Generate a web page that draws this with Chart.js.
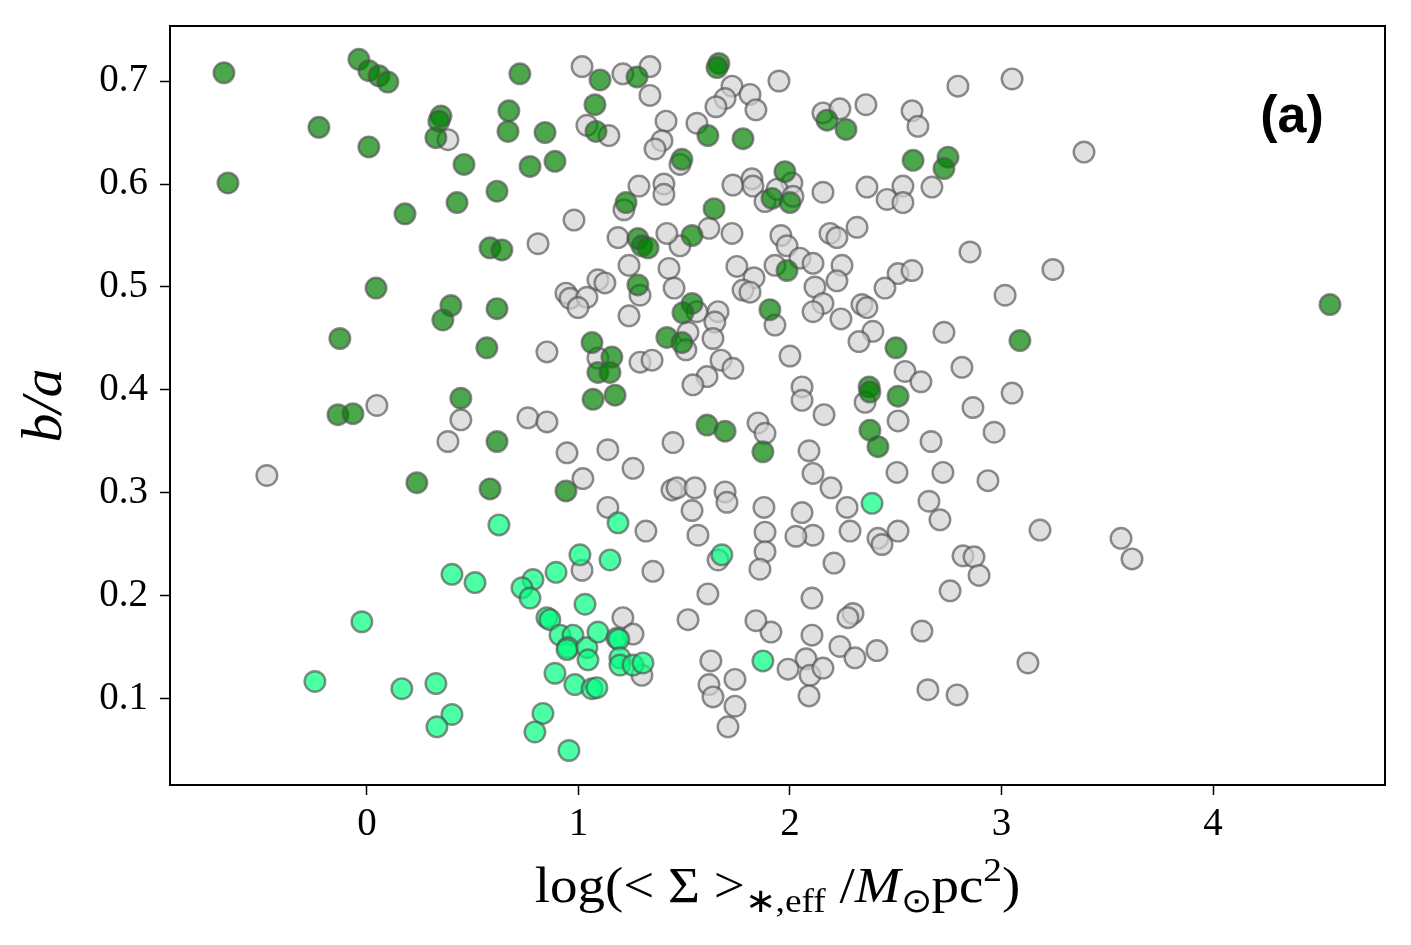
<!DOCTYPE html>
<html>
<head>
<meta charset="utf-8">
<script src="https://cdn.jsdelivr.net/npm/chart.js@4"></script>
<style>
  html, body { margin: 0; padding: 0; background: #fff; }
  canvas { display: block; }
</style>
</head>
<body>
<canvas id="chart" width="1411" height="945"></canvas>
<script>
const xTicks = [0, 1, 2, 3, 4];
const yTicks = [0.1, 0.2, 0.3, 0.4, 0.5, 0.6, 0.7];

// whole sample (grey)
const grayX = [
  0.383, 1.017, 1.210, 1.338, 1.338, 1.726, 1.693, 1.650, 1.811, 1.839,
  1.948, 1.040, 1.144, 1.414, 1.395, 1.362, 1.560, 1.480, 0.979, 0.809,
  1.286, 1.404, 1.404, 1.215, 1.730, 1.820, 1.825, 1.882, 1.617, 1.726,
  1.480, 1.418, 1.187, 1.239, 1.428, 1.749, 1.830, 1.092, 1.125, 1.957,
  1.929, 2.156, 2.236, 2.359, 2.577, 2.605, 2.794, 3.050, 2.009, 1.939,
  2.014, 2.156, 2.364, 2.459, 2.534, 2.534, 2.671, 1.986, 2.189, 2.222,
  2.317, 2.047, 2.109, 2.246, 2.222, 2.118, 2.511, 2.577, 2.449, 2.851,
  3.243, 3.390, 0.851, 0.761, 0.851, 0.946, 1.139, 1.258, 1.021, 1.139,
  0.941, 0.960, 1.040, 0.998, 1.291, 1.239, 1.452, 1.560, 1.660, 1.645,
  1.518, 1.508, 1.636, 1.291, 1.348, 1.674, 1.730, 1.608, 1.541, 1.447,
  1.849, 1.882, 1.929, 1.778, 1.811, 1.442, 1.466, 1.551, 1.693, 1.702,
  1.537, 1.877, 1.319, 1.565, 1.882, 2.156, 2.109, 2.241, 2.340, 2.364,
  2.392, 2.326, 2.000, 2.544, 2.619, 2.728, 2.813, 3.017, 3.050, 2.865,
  2.965, 2.057, 2.057, 2.161, 2.355, 2.511, 2.667, 2.090, 2.109, 2.194,
  2.270, 2.506, 2.723, 2.936, 2.657, 2.709, 2.057, 3.182, 2.284, 2.416,
  2.435, 2.511, 2.109, 2.028, 1.882, 1.858, 2.208, 2.818, 2.870, 2.894,
  2.757, 2.104, 2.298, 2.274, 1.910, 2.104, 2.236, 2.307, 2.411, 2.076,
  1.991, 2.095, 2.156, 2.090, 2.624, 2.652, 2.790, 3.125, 1.660, 1.017,
  1.352, 1.612, 1.518, 1.210, 1.258, 1.300, 1.626, 1.617, 1.636, 1.740,
  1.740, 1.707, 1.839, 3.565, 3.617, 0.047, 0.444, 0.383, -0.473, 1.092
];
const grayY = [
  0.643, 0.714, 0.707, 0.714, 0.686, 0.695, 0.683, 0.675, 0.687, 0.672,
  0.700, 0.657, 0.647, 0.661, 0.642, 0.634, 0.659, 0.619, 0.565, 0.542,
  0.598, 0.600, 0.590, 0.575, 0.599, 0.605, 0.598, 0.583, 0.557, 0.552,
  0.540, 0.552, 0.548, 0.521, 0.518, 0.520, 0.509, 0.507, 0.504, 0.550,
  0.521, 0.669, 0.673, 0.677, 0.671, 0.656, 0.695, 0.702, 0.601, 0.595,
  0.588, 0.592, 0.597, 0.585, 0.598, 0.582, 0.597, 0.540, 0.552, 0.548,
  0.558, 0.528, 0.523, 0.521, 0.506, 0.500, 0.513, 0.516, 0.499, 0.534,
  0.517, 0.631, 0.437, 0.373, 0.369, 0.339, 0.342, 0.324, 0.314, 0.286,
  0.494, 0.489, 0.490, 0.480, 0.492, 0.472, 0.499, 0.476, 0.476, 0.466,
  0.456, 0.439, 0.450, 0.427, 0.429, 0.429, 0.421, 0.413, 0.405, 0.349,
  0.368, 0.358, 0.463, 0.497, 0.495, 0.303, 0.305, 0.305, 0.301, 0.291,
  0.283, 0.286, 0.263, 0.259, 0.262, 0.484, 0.476, 0.469, 0.483, 0.480,
  0.457, 0.447, 0.433, 0.418, 0.408, 0.456, 0.422, 0.492, 0.397, 0.383,
  0.359, 0.403, 0.390, 0.376, 0.388, 0.370, 0.350, 0.341, 0.319, 0.305,
  0.286, 0.320, 0.320, 0.312, 0.292, 0.274, 0.281, 0.264, 0.263, 0.256,
  0.250, 0.263, 0.259, 0.258, 0.243, 0.226, 0.232, 0.239, 0.238, 0.220,
  0.205, 0.198, 0.183, 0.179, 0.165, 0.162, 0.151, 0.140, 0.147, 0.139,
  0.129, 0.123, 0.130, 0.103, 0.166, 0.109, 0.104, 0.135, 0.235, 0.225,
  0.224, 0.202, 0.177, 0.179, 0.163, 0.123, 0.137, 0.114, 0.102, 0.119,
  0.093, 0.073, 0.176, 0.256, 0.236, 0.385, 0.371, 0.350, 0.317, 0.431
];

// dark green subsample
const darkX = [
  -0.676, -0.657, -0.227, -0.038, 0.009, 0.057, 0.099, 0.009, 0.180, 0.043,
  -0.128, -0.137, -0.066, 0.236, 0.350, 0.340, 0.326, 0.459, 0.426, 0.397,
  0.359, 0.444, 0.582, 0.638, 0.615, 0.615, 0.567, 0.615, 0.582, 0.723,
  0.671, 0.667, 0.771, 0.842, 0.889, 1.102, 1.078, 1.083, 1.277, 1.225,
  1.281, 1.300, 1.329, 1.537, 1.641, 1.489, 1.612, 1.778, 1.664, 1.655,
  1.915, 1.281, 1.537, 1.494, 1.418, 1.489, 1.064, 1.158, 1.092, 1.149,
  1.069, 1.173, 1.608, 1.693, 1.872, 1.905, 0.941, 1.976, 2.000, 1.986,
  2.175, 2.265, 2.582, 2.747, 2.728, 2.501, 2.374, 2.378, 2.511, 2.378,
  2.416, 3.087, 4.553
];
const darkY = [
  0.708, 0.601, 0.655, 0.721, 0.710, 0.705, 0.699, 0.636, 0.571, 0.499,
  0.450, 0.376, 0.377, 0.310, 0.666, 0.661, 0.645, 0.619, 0.582, 0.482,
  0.468, 0.392, 0.538, 0.536, 0.593, 0.479, 0.441, 0.350, 0.304, 0.707,
  0.671, 0.651, 0.617, 0.650, 0.622, 0.701, 0.677, 0.651, 0.704, 0.582,
  0.547, 0.540, 0.538, 0.550, 0.576, 0.624, 0.647, 0.644, 0.717, 0.713,
  0.586, 0.502, 0.484, 0.475, 0.451, 0.446, 0.446, 0.432, 0.417, 0.417,
  0.391, 0.395, 0.366, 0.360, 0.340, 0.478, 0.302, 0.612, 0.582, 0.516,
  0.662, 0.653, 0.623, 0.626, 0.615, 0.441, 0.403, 0.398, 0.394, 0.361,
  0.345, 0.448, 0.483
];

// bright green subsample
const brightX = [
  0.624, 1.187, 0.402, 0.511, -0.024, -0.246, 0.165, 0.326, 0.402, 0.331,
  1.007, 1.149, 0.894, 0.785, 0.733, 0.771, 1.031, 0.851, 0.865, 0.913,
  0.974, 0.950, 0.946, 1.040, 1.045, 1.092, 1.182, 1.191, 1.196, 1.196,
  1.258, 1.305, 0.889, 0.983, 1.064, 1.087, 0.832, 0.794, 0.955, 1.678,
  1.872, 2.388
];
const brightY = [
  0.269, 0.271, 0.221, 0.213, 0.175, 0.117, 0.110, 0.115, 0.085, 0.073,
  0.240, 0.235, 0.223, 0.216, 0.208, 0.198, 0.192, 0.179, 0.177, 0.162,
  0.162, 0.150, 0.148, 0.150, 0.138, 0.165, 0.159, 0.158, 0.140, 0.133,
  0.133, 0.135, 0.125, 0.114, 0.110, 0.111, 0.086, 0.068, 0.050, 0.240,
  0.137, 0.290
];

const toPoints = (xs, ys) => xs.map((x, i) => ({ x: x, y: ys[i] }));

const serif = "'Liberation Serif', 'Times New Roman', serif";
const edge = 'rgba(80,80,80,0.65)';

// x label has sub/superscripts, so it is set piece by piece
const xLabelParts = [
  ['log(< \u03A3 >', 'main', 0],
  ['\u2217,eff', 'sub', 10],
  [' /', 'main', 0],
  ['M', 'ital', 0],
  ['\u2299', 'sub', 10],
  ['pc', 'main', 0],
  ['2', 'sub', -21],
  [')', 'main', 0]
];
const partFonts = {
  main: '50px ' + serif,
  ital: 'italic 50px ' + serif,
  sub: '34px ' + serif
};

const extras = {
  id: 'extras',
  afterDraw(chart) {
    const { ctx, chartArea: a } = chart;
    ctx.save();
    ctx.strokeStyle = '#000';
    ctx.lineWidth = 2;
    ctx.strokeRect(a.left, a.top, a.right - a.left, a.bottom - a.top);

    ctx.fillStyle = '#000';
    ctx.textBaseline = 'alphabetic';
    ctx.textAlign = 'center';
    ctx.font = "bold 52px 'Liberation Sans', sans-serif";
    ctx.fillText('(a)', a.right - 93, a.top + 106);

    // x axis title, stretched a little to get closer to the TeX width
    const stretch = 1.1;
    ctx.textAlign = 'left';
    let total = 0;
    xLabelParts.forEach(p => { ctx.font = partFonts[p[1]]; total += ctx.measureText(p[0]).width; });
    const cx = (a.left + a.right) / 2;
    ctx.translate(cx, 902);
    ctx.scale(stretch, 1);
    let x = -total / 2;
    xLabelParts.forEach(p => {
      ctx.font = partFonts[p[1]];
      ctx.fillText(p[0], x, p[2]);
      x += ctx.measureText(p[0]).width;
    });
    ctx.restore();
  }
};

const dotStyle = (fill) => ({
  backgroundColor: fill,
  borderColor: edge,
  borderWidth: 2.4,
  pointRadius: 10.3,
  pointHoverRadius: 10.3
});

const noPad = (s) => { s.paddingTop = 0; s.paddingBottom = 0; s.paddingLeft = 0; s.paddingRight = 0; };

new Chart(document.getElementById('chart'), {
  type: 'scatter',
  data: {
    datasets: [
      Object.assign({ label: 'bright', data: toPoints(brightX, brightY), order: 1 }, dotStyle('rgba(0,255,127,0.7)')),
      Object.assign({ label: 'dark', data: toPoints(darkX, darkY), order: 2 }, dotStyle('rgba(0,128,0,0.7)')),
      Object.assign({ label: 'all', data: toPoints(grayX, grayY), order: 3 }, dotStyle('rgba(211,211,211,0.7)'))
    ]
  },
  options: {
    responsive: false,
    animation: false,
    devicePixelRatio: 1,
    layout: { padding: { left: 0, right: 26, top: 26, bottom: 0 } },
    plugins: { legend: { display: false }, tooltip: { enabled: false } },
    scales: {
      x: {
        type: 'linear',
        min: -0.931,
        max: 4.813,
        afterFit(s) { s.height = 160; noPad(s); },
        afterBuildTicks(s) { s.ticks = xTicks.map(v => ({ value: v })); },
        grid: { drawOnChartArea: false, drawTicks: true, tickLength: 10, tickWidth: 1.5, tickColor: '#000' },
        border: { display: true, color: '#000', width: 2 },
        ticks: { color: '#000', font: { family: serif, size: 39 }, padding: 6, maxRotation: 0, autoSkip: false, callback: v => String(v) }
      },
      y: {
        type: 'linear',
        min: 0.0165,
        max: 0.7534,
        afterFit(s) { s.width = 170; noPad(s); },
        afterBuildTicks(s) { s.ticks = yTicks.map(v => ({ value: v })); },
        grid: { drawOnChartArea: false, drawTicks: true, tickLength: 10, tickWidth: 1.5, tickColor: '#000' },
        border: { display: true, color: '#000', width: 2 },
        ticks: { color: '#000', font: { family: serif, size: 39 }, padding: 12, autoSkip: false, callback: v => v.toFixed(1) },
        title: { display: true, text: 'b/a', color: '#000', font: { family: serif, size: 58, style: 'italic' }, padding: { top: 11, bottom: 0 } }
      }
    }
  },
  plugins: [extras]
});
</script>
</body>
</html>
